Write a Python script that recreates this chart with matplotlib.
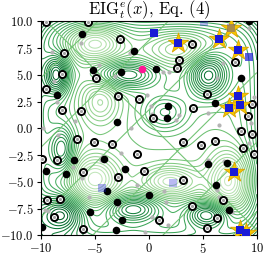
import numpy as np
import matplotlib
matplotlib.use("Agg")
import matplotlib.pyplot as plt

plt.rcParams["font.family"] = "serif"
plt.rcParams["font.serif"] = ["cmr10", "DejaVu Serif"]
plt.rcParams["mathtext.fontset"] = "cm"
plt.rcParams["axes.formatter.use_mathtext"] = True

# background field: bump centres (x, y), widths and amplitudes
bump_x = [-8.5, -2.0, 5.5, -8.0, 5.5, -1.5, -8.0, 1.5, -5.0, -5.0, 2.0, 7.5, 3.0, -4.5]
bump_y = [5.0, 5.0, 5.0, -8.0, -8.0, -7.5, -2.0, 1.5, 8.0, -4.8, -5.0, -5.0, 7.5, 2.5]
bump_sx = [0.8, 2.0, 1.3, 1.4, 1.4, 1.8, 0.8, 1.5, 1.8, 1.6, 1.8, 1.4, 2.2, 1.2]
bump_sy = [1.3, 0.9, 1.5, 1.2, 0.9, 0.9, 1.5, 1.2, 1.2, 1.6, 1.0, 2.0, 1.1, 1.5]
bump_amp = [1.0, 0.8, 1.0, 1.0, 0.9, 0.8, 0.7, 0.5, -0.8, -0.8, -0.7, -0.9, -0.5, -0.5]

# observed points
ring_x = [-9.5, -5.6, -2.65, -7.8, -8.05, -4.9, 2.8, 2.6, 4.0, 8.0, -9.55, -8.05, -6.3,
          -2.8, -0.9, 0.4, 4.1, 5.35, 9.6, 9.15, 8.5, 9.55, -6.6, -5.05, -3.4, 3.2, 4.8,
          6.15, 8.75, 9.75, -1.05, -9.9, -8.45, -6.05, -0.45, -2.8, 3.2, -9.45, -8.2,
          6.85, 4.0, -8.8, 0.95, 6.3, -6.1, 5.35]
ring_y = [9.9, 9.9, 8.3, 7.0, 5.1, 4.7, 6.4, 5.6, 7.85, 6.2, 3.65, 1.7, 1.65,
          3.0, 2.7, 1.0, 1.85, 3.2, 2.25, 1.1, -0.3, -0.55, -1.05, -1.3, -1.45, -1.3, -1.55,
          -1.15, -1.8, -2.45, -2.45, -2.85, -3.0, -4.1, -3.95, -4.6, -4.85, -6.7, -6.6,
          -6.7, -7.25, -8.3, -8.6, -8.4, -9.4, -9.3]
black_x = [-6.2, -1.33, -5.2, -2.55, 0.65, 9.25, 8.55, -8.5, 1.8, 1.7, -2.9, 6.1, -6.9,
           -4.1, -9.5, -7.7, -2.2, 7.2, 5.5, -3.85, 0.0, 6.25, -2.95, 7.4, -5.45, -2.5,
           -9.85, -3.05]
black_y = [8.8, 7.25, 5.45, 5.3, 5.5, 10.0, 4.7, 3.1, 2.1, 1.0, 0.55, 2.35, -3.0,
           -2.85, -4.0, -4.25, -3.8, -3.25, -3.35, -5.9, -6.2, -5.3, -6.9, -7.6, -7.85, -8.55,
           -9.2, -9.55]
grey_x = [-6.3, -9.0, -8.8, -3.1, -1.7, -4.6, 1.3, 1.9, 6.3, 6.9, 9.25, 9.75, 0.2, 2.8,
          -8.5, -0.2, 0.3, -1.65, -2.55, -4.4, -6.2, -1.05, 1.4, -9.6, -9.3, 0.3, 1.8,
          -0.35, -5.5, 1.6, 5.5, 6.3, 7.7, 6.5, 9.3, -8.4, -9.75, -6.8, 5.5, 6.55, 9.5,
          -7.0, -2.85, -6.35, -4.3, 6.0, 8.3, 7.0, -2.4, 2.5]
grey_y = [8.0, 7.1, 4.4, 4.9, 7.0, 5.9, 5.25, 5.3, 4.7, 6.1, 9.4, 2.95, 2.1, 1.2,
          2.5, 3.15, 1.3, 0.0, -2.3, -3.0, -4.65, -5.3, -5.9, -7.6, -7.7, -8.25, -9.0,
          -9.7, -6.4, -6.85, -2.95, -5.75, -7.8, -6.4, -1.4, -0.65, 0.0, 0.65, 1.4, 0.35, 0.5,
          -3.6, -7.2, 8.7, -2.7, -1.0, -0.1, -3.1, -3.7, 0.8]
sq_x = [0.5, 9.3, 5.15, 2.2, -4.35]
sq_y = [8.9, 6.7, 9.9, -5.1, -5.6]
sq_alpha = [1.0, 0.7, 0.3, 0.3, 0.35]
star_x = [2.75, 7.6, 6.5, 8.3, 8.25, 7.45, 8.45, 7.9, 8.45, 9.05]
star_y = [8.0, 9.4, 8.35, 7.3, 3.0, 1.85, 2.15, -4.1, -9.5, -9.8]
star_sq_alpha = [1.0, 0.35, 1.0, 1.0, 1.0, 1.0, 1.0, 1.0, 1.0, 1.0]
best_x, best_y = [-0.65], [5.57]

g = np.linspace(-10, 10, 300)
X, Y = np.meshgrid(g, g)
F = 0.45 * ((X / 10) ** 6 + (Y / 10) ** 6)
for bx, by, sx, sy, a in zip(bump_x, bump_y, bump_sx, bump_sy, bump_amp):
    F += a * np.exp(-((X - bx) ** 2 / (2 * sx ** 2) + (Y - by) ** 2 / (2 * sy ** 2)))
U, V = X + Y, X - Y
P = np.sin((U - 0.5) / 13) * np.sin(np.pi * (V + 1.7) / 6.5)

fig = plt.figure(figsize=(2.68, 2.56), dpi=100)
ax = fig.add_axes([0.152, 0.081, 0.806, 0.836])
cmap = matplotlib.colors.LinearSegmentedColormap.from_list(
    "g", plt.cm.Greens(np.linspace(0.22, 0.95, 256)))
ax.contour(X, Y, F, levels=26, cmap=cmap, linewidths=0.75)
ax.contour(X, Y, P, levels=[0], colors=["#74c476"], linewidths=0.8)

ax.scatter(grey_x, grey_y, s=9, c="#b4b4b4", zorder=3, linewidths=0)
ax.scatter(black_x, black_y, s=30, c="black", zorder=4, linewidths=0)
ax.scatter(ring_x, ring_y, s=26, facecolors="white", edgecolors="black",
           linewidths=1.4, zorder=4)
ax.scatter(ring_x, ring_y, s=5, c="#a0a0a0", zorder=5, linewidths=0)
for x, y, a in zip(sq_x, sq_y, sq_alpha):
    ax.scatter([x], [y], s=28, marker="s", c="#1a1ad6", alpha=a, zorder=6, linewidths=0)
ax.scatter(star_x, star_y, s=230, marker="*", c="#f7c600", edgecolors="#d9a400",
           linewidths=0.6, zorder=7)
for x, y, a in zip(star_x, star_y, star_sq_alpha):
    ax.scatter([x], [y], s=28, marker="s", c="#1a1ad6", alpha=a, zorder=8, linewidths=0)
ax.scatter(best_x, best_y, s=30, c="#ff1493", zorder=9, linewidths=0)

ax.set_xlim(-10, 10)
ax.set_ylim(-10, 10)
ax.set_xticks([-10, -5, 0, 5, 10])
ax.set_yticks([-10, -7.5, -5, -2.5, 0, 2.5, 5, 7.5, 10])
ax.set_yticklabels(["$-10.0$", "$-7.5$", "$-5.0$", "$-2.5$", "$0.0$", "$2.5$", "$5.0$", "$7.5$", "$10.0$"])
ax.set_xticklabels(["$-10$", "$-5$", "$0$", "$5$", "$10$"])
ax.tick_params(labelsize=9, pad=2, length=3)
ax.set_title(r"EIG$^e_t(x)$, Eq. (4)", fontsize=12, pad=2)
fig.savefig("out.png", dpi=100)
